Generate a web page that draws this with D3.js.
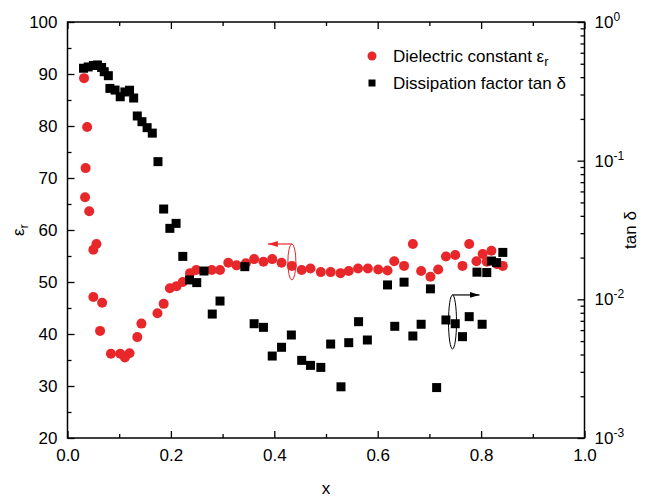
<!DOCTYPE html>
<html>
<head>
<meta charset="utf-8">
<script src="https://cdn.jsdelivr.net/npm/d3@7"></script>
<style>
  body { margin: 0; background: #fff; }
  text { font-family: "Liberation Sans", Arial, sans-serif; fill: #000; }
</style>
</head>
<body>
<div id="chart"></div>
<script>
// ---------- DATA ----------
// dielectric constant (left axis)
const epsX = [0.032, 0.038, 0.035, 0.034, 0.042, 0.056, 0.050, 0.050, 0.067, 0.063,
  0.084, 0.102, 0.111, 0.120, 0.135, 0.143, 0.174, 0.186, 0.198, 0.211,
  0.223, 0.237, 0.249, 0.279, 0.295, 0.311, 0.327, 0.345, 0.361, 0.379,
  0.396, 0.414, 0.434, 0.453, 0.470, 0.490, 0.509, 0.528, 0.544, 0.562,
  0.581, 0.601, 0.619, 0.632, 0.651, 0.668, 0.684, 0.702, 0.717, 0.732,
  0.750, 0.764, 0.777, 0.791, 0.803, 0.811, 0.820, 0.831, 0.842];
const epsVal = [89.2, 79.8, 71.9, 66.3, 63.6, 57.3, 56.2, 47.1, 46.0, 40.6,
  36.2, 36.2, 35.5, 36.3, 39.4, 42.0, 44.0, 45.8, 48.8, 49.2,
  50.0, 51.7, 52.3, 52.3, 52.3, 53.7, 53.2, 53.6, 54.4, 53.9,
  54.4, 53.7, 53.1, 52.3, 52.6, 51.9, 51.9, 51.7, 52.1, 52.6,
  52.6, 52.4, 52.2, 54.0, 53.1, 57.3, 52.1, 51.0, 52.4, 54.9,
  55.2, 53.1, 57.3, 54.0, 55.4, 53.9, 56.0, 53.4, 53.1];

// dissipation factor (right axis, log)
const tanX = [0.031, 0.040, 0.050, 0.058, 0.066, 0.071, 0.079, 0.082, 0.092, 0.102,
  0.111, 0.120, 0.128, 0.135, 0.144, 0.154, 0.164, 0.175, 0.186, 0.198,
  0.210, 0.223, 0.236, 0.250, 0.264, 0.280, 0.295, 0.343, 0.361, 0.379,
  0.396, 0.414, 0.433, 0.453, 0.470, 0.490, 0.509, 0.529, 0.544, 0.563,
  0.580, 0.619, 0.633, 0.651, 0.668, 0.684, 0.702, 0.714, 0.732, 0.750,
  0.764, 0.777, 0.792, 0.802, 0.811, 0.820, 0.830, 0.842];
const tanVal = [0.464, 0.474, 0.486, 0.490, 0.470, 0.438, 0.410, 0.332, 0.323, 0.289,
  0.313, 0.322, 0.283, 0.210, 0.191, 0.173, 0.158, 0.0984, 0.0448, 0.0325,
  0.0353, 0.0204, 0.0138, 0.0132, 0.0160, 0.00783, 0.00972, 0.0172, 0.00667, 0.00628,
  0.00390, 0.00451, 0.00553, 0.00363, 0.00334, 0.00323, 0.00476, 0.00234, 0.00487, 0.00690,
  0.00509, 0.0127, 0.00639, 0.0133, 0.00544, 0.00661, 0.0119, 0.00231, 0.00710, 0.00667,
  0.00538, 0.00750, 0.0157, 0.00661, 0.0156, 0.0189, 0.0184, 0.0218];

const xTicks = [0, 0.2, 0.4, 0.6, 0.8, 1.0];
const epsTicks = [20, 30, 40, 50, 60, 70, 80, 90, 100];
const tanTicks = [1e-3, 1e-2, 1e-1, 1e0];

// ---------- LAYOUT ----------
const width = 648;
const height = 498;
const margin = { top: 22, right: 63.5, bottom: 60, left: 67.5 };
const red = "#e8272b";

const svg = d3.select("#chart").append("svg")
  .attr("width", width).attr("height", height);

const x = d3.scaleLinear().domain([0, 1]).range([margin.left, width - margin.right]);
const yL = d3.scaleLinear().domain([20, 100]).range([height - margin.bottom, margin.top]);
const yR = d3.scaleLog().domain([1e-3, 1]).range([height - margin.bottom, margin.top]);

const plotB = height - margin.bottom;
const plotR = width - margin.right;

function styleAxis(g) {
  g.select(".domain").remove();
  g.selectAll(".tick line").attr("stroke", "#000").attr("stroke-width", 1.3);
  g.selectAll(".tick text").attr("font-size", 17)
    .attr("font-family", "Liberation Sans, Arial, sans-serif");
}

const minorX = d3.range(0.1, 1, 0.2);
const minorL = d3.range(25, 100, 10);
const minorR = [];
[1e-3, 1e-2, 1e-1].forEach(d => { for (let k = 2; k <= 9; k++) minorR.push(d * k); });

// bottom
svg.append("g").attr("transform", `translate(0,${plotB})`)
  .call(d3.axisBottom(x).tickValues(xTicks).tickFormat(d3.format(".1f")).tickSize(-7).tickPadding(11))
  .call(styleAxis);
svg.append("g").attr("transform", `translate(0,${plotB})`)
  .call(d3.axisBottom(x).tickValues(minorX).tickFormat("").tickSize(-4))
  .call(styleAxis);
// top
svg.append("g").attr("transform", `translate(0,${margin.top})`)
  .call(d3.axisTop(x).tickValues(xTicks).tickFormat("").tickSize(-7))
  .call(styleAxis);
svg.append("g").attr("transform", `translate(0,${margin.top})`)
  .call(d3.axisTop(x).tickValues(minorX).tickFormat("").tickSize(-4))
  .call(styleAxis);
// left
svg.append("g").attr("transform", `translate(${margin.left},0)`)
  .call(d3.axisLeft(yL).tickValues(epsTicks).tickSize(-7).tickPadding(10))
  .call(styleAxis);
svg.append("g").attr("transform", `translate(${margin.left},0)`)
  .call(d3.axisLeft(yL).tickValues(minorL).tickFormat("").tickSize(-4))
  .call(styleAxis);
// right (log)
svg.append("g").attr("transform", `translate(${plotR},0)`)
  .call(d3.axisRight(yR).tickValues(tanTicks).tickSize(-7).tickPadding(10))
  .call(styleAxis)
  .selectAll(".tick text")
  .each(function (d) {
    const t = d3.select(this);
    t.text(null);
    t.append("tspan").text("10");
    t.append("tspan").attr("dy", -7).attr("font-size", 12)
      .text(Math.round(Math.log10(d)));
  });
svg.append("g").attr("transform", `translate(${plotR},0)`)
  .call(d3.axisRight(yR).tickValues(minorR).tickFormat("").tickSize(-4))
  .call(styleAxis);

// frame
svg.append("rect")
  .attr("x", margin.left).attr("y", margin.top)
  .attr("width", plotR - margin.left).attr("height", plotB - margin.top)
  .attr("fill", "none").attr("stroke", "#000").attr("stroke-width", 1.5);

// axis titles
const tL = svg.append("text").attr("transform", `translate(24,${(margin.top + plotB) / 2}) rotate(-90)`)
  .attr("text-anchor", "middle").attr("font-size", 17);
tL.append("tspan").text("ε");
tL.append("tspan").attr("dy", 4).attr("font-size", 13).text("r");

svg.append("text").attr("transform", `translate(636,${(margin.top + plotB) / 2}) rotate(-90)`)
  .attr("text-anchor", "middle").attr("font-size", 17).text("tan δ");

svg.append("text").attr("x", (margin.left + plotR) / 2).attr("y", 494)
  .attr("text-anchor", "middle").attr("font-size", 17).text("x");

// ---------- MARKS ----------
const epsData = epsX.map((d, i) => ({ x: d, v: epsVal[i] }));
const tanData = tanX.map((d, i) => ({ x: d, v: tanVal[i] }));

svg.append("g").selectAll("circle").data(epsData).join("circle")
  .attr("cx", d => x(d.x)).attr("cy", d => yL(d.v)).attr("r", 5)
  .attr("fill", red);

const sq = 9;
svg.append("g").selectAll("rect").data(tanData).join("rect")
  .attr("x", d => x(d.x) - sq / 2).attr("y", d => yR(d.v) - sq / 2)
  .attr("width", sq).attr("height", sq).attr("fill", "#000");

// ---------- ANNOTATIONS ----------
const defs = svg.append("defs");
[["arrRed", red], ["arrBlack", "#000"]].forEach(([id, c]) => {
  defs.append("marker").attr("id", id).attr("viewBox", "0 0 10 6")
    .attr("refX", 10).attr("refY", 3).attr("markerWidth", 10).attr("markerHeight", 6)
    .attr("markerUnits", "userSpaceOnUse").attr("orient", "auto")
    .append("path").attr("d", "M0,0 L10,3 L0,6 Z").attr("fill", c);
});

// red: points to left axis
const rx0 = x(0.434), ry0 = yL(53.85);
svg.append("ellipse").attr("cx", rx0).attr("cy", ry0).attr("rx", 4).attr("ry", 18)
  .attr("fill", "none").attr("stroke", red).attr("stroke-width", 1);
svg.append("line").attr("x1", rx0).attr("y1", ry0 - 18).attr("x2", rx0 - 24).attr("y2", ry0 - 18)
  .attr("stroke", red).attr("stroke-width", 1.2).attr("marker-end", "url(#arrRed)");

// black: points to right axis
const bx0 = x(0.7447), by0 = yR(0.00687);
svg.append("ellipse").attr("cx", bx0).attr("cy", by0).attr("rx", 4).attr("ry", 27)
  .attr("fill", "none").attr("stroke", "#000").attr("stroke-width", 1);
svg.append("line").attr("x1", bx0).attr("y1", by0 - 27).attr("x2", bx0 + 27).attr("y2", by0 - 27)
  .attr("stroke", "#000").attr("stroke-width", 1.2).attr("marker-end", "url(#arrBlack)");

// ---------- LEGEND ----------
const legend = svg.append("g").attr("transform", "translate(372,0)");
legend.append("circle").attr("cx", 0).attr("cy", 56).attr("r", 4.5).attr("fill", red);
legend.append("rect").attr("x", -3.5).attr("y", 79.5).attr("width", 7).attr("height", 7).attr("fill", "#000");
const l1 = legend.append("text").attr("x", 21).attr("y", 62).attr("font-size", 17);
l1.append("tspan").text("Dielectric constant ε");
l1.append("tspan").attr("dy", 4).attr("font-size", 13).text("r");
legend.append("text").attr("x", 21).attr("y", 89).attr("font-size", 17)
  .text("Dissipation factor tan δ");
</script>
</body>
</html>
